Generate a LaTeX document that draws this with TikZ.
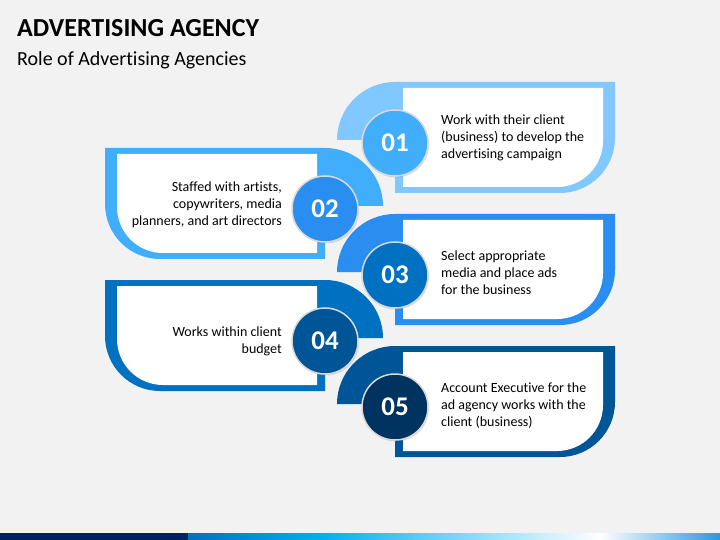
\documentclass[tikz,border=0pt]{standalone}
\usepackage{fontspec}
\setmainfont{Carlito}[Ligatures=NoCommon]
\usetikzlibrary{shadows}
\definecolor{bgc}{HTML}{F2F2F2}
\definecolor{pA}{HTML}{80C8FF}
\definecolor{pB}{HTML}{40AEFA}
\definecolor{pC}{HTML}{2A8EF0}
\definecolor{pD}{HTML}{0070C0}
\definecolor{pE}{HTML}{005597}
\definecolor{pF}{HTML}{00335F}
\definecolor{navy}{HTML}{002060}
\definecolor{cyanb}{HTML}{00B0F0}
\definecolor{endb}{HTML}{2E96DC}
\newcommand\rshape[2]{%
  \fill[#2] (395,#1+58) -- (337,#1+58) arc[start angle=180,end angle=270,radius=58] -- cycle;
  \fill[#2] (395,#1) -- (615,#1) -- (615,#1+56) arc[start angle=0,end angle=90,radius=55] -- (395,#1+111) -- cycle;
  \fill[white] (403,#1+6) -- (603,#1+6) -- (603,#1+59) arc[start angle=0,end angle=90,radius=46] -- (403,#1+105) -- cycle;
}
\newcommand\lshape[2]{%
  \fill[#2] (325,#1+58) -- (383,#1+58) arc[start angle=0,end angle=-90,radius=58] -- cycle;
  \fill[#2] (325,#1) -- (325,#1+111) -- (160,#1+111) arc[start angle=90,end angle=180,radius=55] -- (105,#1) -- cycle;
  \fill[white] (317,#1+6) -- (317,#1+105) -- (163,#1+105) arc[start angle=90,end angle=180,radius=46] -- (117,#1+6) -- cycle;
}
\begin{document}
\begin{tikzpicture}[x=1bp,y=-1bp,
  numcirc/.style={circle, minimum size=66bp, inner sep=0pt, draw=white!85!black, line width=1.5bp, text=white,
    font=\fontsize{27bp}{30bp}\selectfont\bfseries,
    drop shadow={shadow xshift=1bp, shadow yshift=-1.5bp, opacity=0.25}},
  desc/.style={inner sep=0pt, font=\fontsize{14bp}{17bp}\selectfont, text=black}]
\fill[bgc] (0,0) rectangle (720,540);
% title
\node[anchor=base west, inner sep=0pt, font=\fontsize{26bp}{30bp}\selectfont\bfseries] (title) at (17,36.5) {ADVERTISING AGENCY};
\node[anchor=base west, inner sep=0pt, font=\fontsize{20bp}{24bp}\selectfont] (subtitle) at (17,65.5) {Role of Advertising Agencies};
% shapes
\rshape{82}{pA}
\lshape{148}{pB}
\rshape{214}{pC}
\lshape{280}{pD}
\rshape{346}{pE}
% texts
\node[desc, anchor=west, align=left] (t1) at (441,138) {Work with their client\\(business) to develop the\\advertising campaign};
\node[desc, anchor=east, align=right] (t2) at (282,205) {Staffed with artists,\\copywriters, media\\planners, and art directors};
\node[desc, anchor=west, align=left] (t3) at (441,273) {Select appropriate\\media and place ads\\for the business};
\node[desc, anchor=east, align=right] (t4) at (282,341) {Works within client\\budget};
\node[desc, anchor=west, align=left] (t5) at (441,406) {Account Executive for the\\ad agency works with the\\client (business)};
% circles
\node[numcirc, fill=pB] (n1) at (395,143) {01};
\node[numcirc, fill=pC] (n2) at (325,209) {02};
\node[numcirc, fill=pD] (n3) at (395,275) {03};
\node[numcirc, fill=pE] (n4) at (325,341) {04};
\node[numcirc, fill=pF] (n5) at (395,407) {05};
% bottom bar
\fill[navy] (0,533) rectangle (188,540);
\shade[left color=pD, right color=cyanb] (188,533) rectangle (321,540);
\shade[left color=cyanb, right color=white] (321,533) rectangle (600,540);
\shade[left color=white, right color=endb] (600,533) rectangle (720,540);
\end{tikzpicture}
\end{document}
